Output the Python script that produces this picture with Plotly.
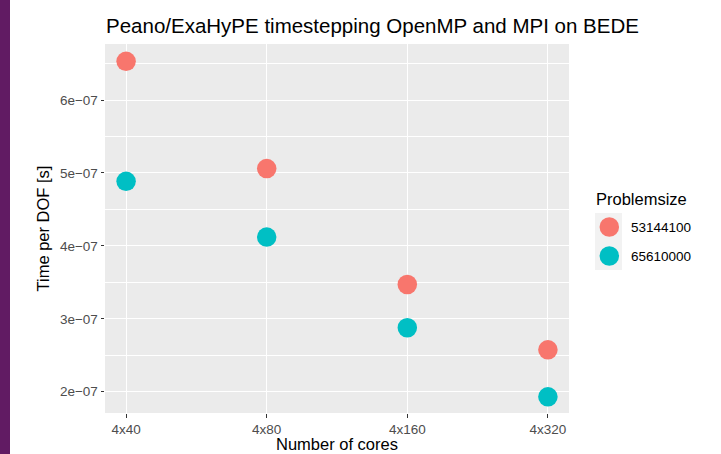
import plotly.graph_objects as go

categories = ["4x40", "4x80", "4x160", "4x320"]
series_names = ["53144100", "65610000"]
values_53144100 = [6.53e-07, 5.06e-07, 3.47e-07, 2.575e-07]
values_65610000 = [4.885e-07, 4.12e-07, 2.877e-07, 1.93e-07]
series_values = [values_53144100, values_65610000]
colors = ["#F8766D", "#00BFC4"]
ytick_vals = [2e-07, 3e-07, 4e-07, 5e-07, 6e-07]
ytick_text = ["2e\u221207", "3e\u221207", "4e\u221207", "5e\u221207", "6e\u221207"]

FONT = "Liberation Sans, Arial, Helvetica, sans-serif"
W, H = 721, 454
L, R, T, B = 105, 569, 44, 413

fig = go.Figure()
for name, vals, col in zip(series_names, series_values, colors):
    fig.add_trace(go.Scatter(
        x=categories, y=vals, mode="markers", name=name,
        marker=dict(color=col, size=19.5, line=dict(width=0)),
        showlegend=False,
    ))

fig.update_layout(
    width=W, height=H,
    margin=dict(l=L, r=W - R, t=T, b=H - B, pad=0),
    paper_bgcolor="white", plot_bgcolor="#EBEBEB",
    font=dict(family=FONT, color="#000000"),
    showlegend=False,
)
fig.update_xaxes(
    type="category", range=[-0.15, 3.15],
    showgrid=True, gridcolor="white", gridwidth=1.1,
    ticks="outside", ticklen=3.5, tickwidth=1, tickcolor="#333333",
    tickfont=dict(size=13.5, color="#4D4D4D", family=FONT),
    showline=False, zeroline=False,
)
fig.update_yaxes(
    range=[1.708e-07, 6.768e-07],
    tickmode="array", tickvals=ytick_vals, ticktext=ytick_text,
    showgrid=True, gridcolor="white", gridwidth=1.1,
    minor=dict(tickmode="linear", tick0=0, dtick=0.5e-07, showgrid=True,
               gridcolor="white", gridwidth=0.55, ticks=""),
    ticks="outside", ticklen=3.5, tickwidth=1, tickcolor="#333333",
    tickfont=dict(size=13.5, color="#4D4D4D", family=FONT),
    showline=False, zeroline=False,
)

# left purple strip
fig.add_shape(type="rect", xref="paper", yref="paper",
              x0=-L / (R - L), x1=(10 - L) / (R - L), y0=-(H - B) / (B - T), y1=1 + T / (B - T),
              fillcolor="#611B63", line=dict(width=0), layer="above")

def px(x):
    return (x - L) / (R - L)

def py(y):
    return (B - y) / (B - T)

annotations = [
    dict(text="Peano/ExaHyPE timestepping OpenMP and MPI on BEDE", x=px(104), y=py(26),
         xanchor="left", yanchor="middle", font=dict(size=20.5, color="black")),
    dict(text="Number of cores", x=px(337), y=py(444), xanchor="center", yanchor="middle",
         font=dict(size=16.5, color="black")),
    dict(text="Time per DOF [s]", x=px(42), y=py(228.5), xanchor="center", yanchor="middle",
         textangle=-90, font=dict(size=16.5, color="black")),
    dict(text="Problemsize", x=px(594), y=py(198.5), xanchor="left", yanchor="middle",
         font=dict(size=16.5, color="black")),
]
key_y = [227, 256]
for name, ky in zip(series_names, key_y):
    annotations.append(dict(text=name, x=px(629), y=py(ky), xanchor="left", yanchor="middle",
                            font=dict(size=13.5, color="black")))
for a in annotations:
    a.update(xref="paper", yref="paper", showarrow=False)
fig.update_layout(annotations=annotations)

# legend key background and symbols
fig.add_shape(type="rect", xref="paper", yref="paper", x0=px(595), x1=px(622), y0=py(270), y1=py(213),
              fillcolor="#F2F2F2", line=dict(width=0))
for col, ky in zip(colors, key_y):
    r = 9.75
    fig.add_shape(type="circle", xref="paper", yref="paper",
                  x0=px(609.3 - r), x1=px(609.3 + r), y0=py(ky + r), y1=py(ky - r),
                  fillcolor=col, line=dict(width=0))

fig.write_html("out.html", config={"displayModeBar": False},
               post_script="document.body.style.margin='0';")
